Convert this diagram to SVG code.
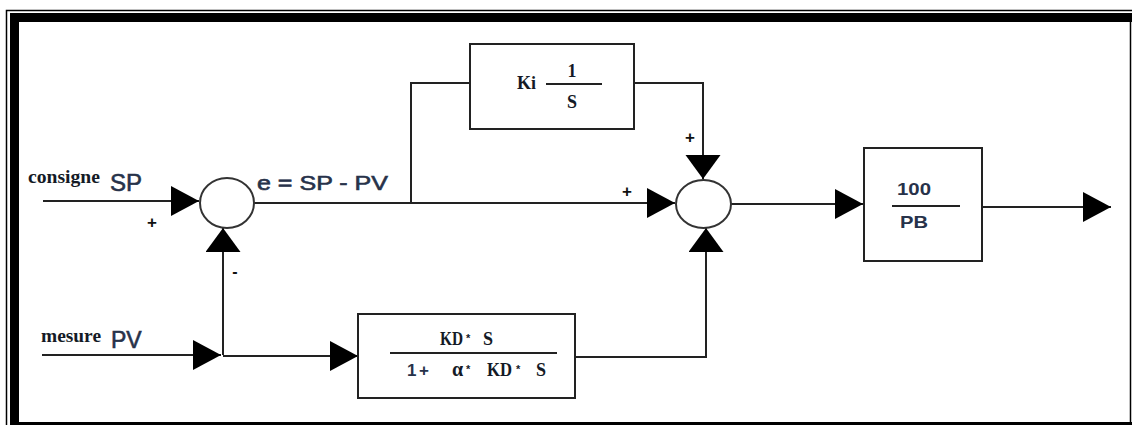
<svg xmlns="http://www.w3.org/2000/svg" width="1132" height="425" viewBox="0 0 1132 425">
<style>
.ln{fill:none;stroke:#222;stroke-width:2}
.ah{marker-end:url(#ah)}
.av{marker-end:url(#av)}
.box{fill:#fff;stroke:#222;stroke-width:2}
.sum{fill:#fff;stroke:#333;stroke-width:2}
.ser{font-family:"Liberation Serif","DejaVu Serif",serif;font-weight:bold;fill:#141a26}
.san{font-family:"Liberation Sans",Arial,sans-serif;fill:#27324a}
.thk{stroke:#27324a;stroke-width:0.6}
.sgn{font-family:"Liberation Sans",Arial,sans-serif;font-weight:bold;fill:#111;text-anchor:middle}
.ast{font-family:"Liberation Sans",Arial,sans-serif;font-weight:bold;fill:#141a26;font-size:11px}
</style>
<defs>
<marker id="ah" markerUnits="userSpaceOnUse" markerWidth="30" markerHeight="32" refX="28" refY="15" orient="auto"><path d="M0,0 L28,15 L0,30 Z" fill="#000"/></marker>
<marker id="av" markerUnits="userSpaceOnUse" markerWidth="26" markerHeight="36" refX="24" refY="17.5" orient="auto"><path d="M0,0 L24,17.5 L0,35 Z" fill="#000"/></marker>
</defs>
<rect width="1132" height="425" fill="#fff"/>
<g id="frame">
<path d="M6.5,425 V10.5 H1132" fill="none" stroke="#000" stroke-width="1.5"/>
<rect x="10" y="13" width="9" height="412" fill="#000"/>
<rect x="10" y="13" width="1122" height="9" fill="#000"/>
<rect x="10" y="422" width="1122" height="3" fill="#000"/>
<line x1="1130.5" y1="22" x2="1130.5" y2="422" stroke="#000" stroke-width="1.5"/>
</g>
<g id="connectors">
<path class="ln ah" d="M43,201 H199"/>
<path class="ln ah" d="M42,355 H221"/>
<path class="ln av" d="M223,355 V228"/>
<path class="ln ah" d="M223,356 H358"/>
<path class="ln ah" d="M254,203 H675"/>
<path class="ln" d="M411,203 V83 H470"/>
<path class="ln av" d="M634,83 H703 V179"/>
<path class="ln av" d="M575,357 H706 V228"/>
<path class="ln ah" d="M731,204 H863"/>
<path class="ln ah" d="M982,207 H1111"/>
</g>
<g id="sum1"><ellipse class="sum" cx="227" cy="203" rx="27" ry="25"/></g>
<g id="sum2"><ellipse class="sum" cx="703.5" cy="204" rx="27.5" ry="24"/></g>
<g id="ki">
<rect class="box" x="470" y="44" width="164" height="85"/>
<text class="ser" x="517" y="89" font-size="18">Ki</text>
<line x1="546" y1="84" x2="602" y2="84" stroke="#222" stroke-width="2"/>
<text class="ser" x="572" y="77" font-size="18" text-anchor="middle">1</text>
<text class="ser" x="572" y="108" font-size="18" text-anchor="middle">S</text>
</g>
<g id="kd">
<rect class="box" x="358" y="314" width="217" height="84"/>
<text class="ser" x="440" y="345" font-size="18" textLength="23" lengthAdjust="spacingAndGlyphs">KD</text>
<text class="ast" x="466" y="342">*</text>
<text class="ser" x="483" y="345" font-size="18">S</text>
<line x1="390" y1="353" x2="557" y2="353" stroke="#222" stroke-width="2"/>
<text class="san" x="407" y="376" font-size="17" font-weight="bold" fill="#141a26">1</text>
<text class="san" x="419" y="376" font-size="17" font-weight="bold" fill="#141a26">+</text>
<text class="ser" x="452" y="376" font-size="20">α</text>
<text class="ast" x="466" y="373">*</text>
<text class="ser" x="487" y="376" font-size="18" textLength="25" lengthAdjust="spacingAndGlyphs">KD</text>
<text class="ast" x="516" y="373">*</text>
<text class="ser" x="536" y="376" font-size="18">S</text>
</g>
<g id="pb">
<rect class="box" x="864" y="148" width="118" height="113"/>
<text class="san" x="914" y="195" font-size="17" font-weight="bold" text-anchor="middle" textLength="34" lengthAdjust="spacingAndGlyphs">100</text>
<line x1="892" y1="206" x2="960" y2="206" stroke="#222" stroke-width="2"/>
<text class="san" x="914" y="228" font-size="17" font-weight="bold" text-anchor="middle" textLength="28" lengthAdjust="spacingAndGlyphs">PB</text>
</g>
<g id="labels">
<text class="ser" x="28" y="183" font-size="18" textLength="72" lengthAdjust="spacingAndGlyphs">consigne</text>
<text class="san thk" x="110" y="191" font-size="24">SP</text>
<text class="ser" x="41" y="342" font-size="18" textLength="60" lengthAdjust="spacingAndGlyphs">mesure</text>
<text class="san thk" x="111" y="348" font-size="23">PV</text>
<text class="san thk" x="257" y="190" font-size="20" textLength="131" lengthAdjust="spacingAndGlyphs">e = SP - PV</text>
<text class="sgn" x="152" y="228" font-size="17">+</text>
<text class="sgn" x="235" y="277" font-size="16">-</text>
<text class="sgn" x="627" y="197" font-size="17">+</text>
<text class="sgn" x="690" y="143" font-size="17">+</text>
</g>
</svg>
